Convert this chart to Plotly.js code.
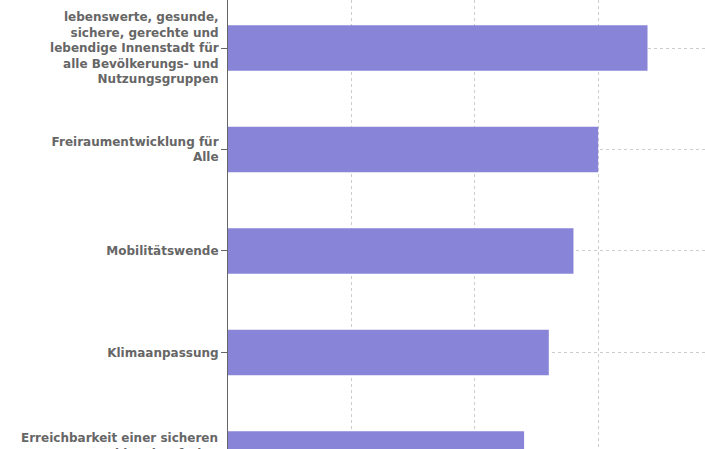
<!DOCTYPE html>
<html>
<head>
<meta charset="utf-8">
<script src="https://cdn.plot.ly/plotly-3.0.1.min.js"></script>
<style>html,body{margin:0;padding:0;background:#fff;}#chart{width:705px;height:449px;}</style>
</head>
<body>
<div id="chart"></div>
<script>
const categories = [
  "lebenswerte, gesunde,<br>sichere, gerechte und<br>lebendige Innenstadt für<br>alle Bevölkerungs- und<br>Nutzungsgruppen",
  "Freiraumentwicklung für<br>Alle",
  "Mobilitätswende",
  "Klimaanpassung",
  "Erreichbarkeit einer sicheren<br>und barrierefreien<br>Nahversorgung"
];
const values = [17, 15, 14, 13, 12];
const xTicks = [0, 5, 10, 15, 20];

const labelFont = {family: 'DejaVu Sans, sans-serif', size: 12, color: '#666', weight: 'bold'};
const yRange = [3.951, -0.473];

const trace = {
  type: 'bar',
  orientation: 'h',
  y: categories,
  x: values,
  marker: {color: '#8884d8', line: {width: 0}},
  width: 0.45,
  hoverinfo: 'none'
};

// label of the last category, whose centre lies just below the visible area
const lastIdx = categories.length - 1;
const lastFrac = (yRange[0] - lastIdx) / (yRange[0] - yRange[1]);

const layout = {
  width: 705,
  height: 449,
  margin: {l: 228, r: 0, t: 0, b: 0, pad: 0},
  paper_bgcolor: '#fff',
  plot_bgcolor: '#fff',
  showlegend: false,
  font: {family: 'DejaVu Sans, sans-serif', size: 12, color: '#666'},
  xaxis: {
    range: [0, 19.33],
    tickvals: xTicks,
    showticklabels: false,
    showgrid: true,
    gridcolor: '#ccc',
    griddash: '3px,3px',
    gridwidth: 1,
    zeroline: false,
    showline: false
  },
  yaxis: {
    type: 'category',
    categoryorder: 'array',
    categoryarray: categories,
    range: yRange,
    showgrid: true,
    gridcolor: '#ccc',
    griddash: '3px,3px',
    gridwidth: 1,
    showline: true,
    linecolor: '#666',
    linewidth: 1,
    ticks: 'outside',
    ticklen: 6,
    tickcolor: '#666',
    tickfont: labelFont,
    zeroline: false
  },
  annotations: [{
    text: categories[lastIdx],
    xref: 'paper', yref: 'paper',
    x: 0, y: lastFrac,
    xanchor: 'right', yanchor: 'middle',
    align: 'right',
    xshift: -8,
    showarrow: false,
    font: labelFont
  }]
};

Plotly.newPlot('chart', [trace], layout, {staticPlot: true, displayModeBar: false});
</script>
</body>
</html>
